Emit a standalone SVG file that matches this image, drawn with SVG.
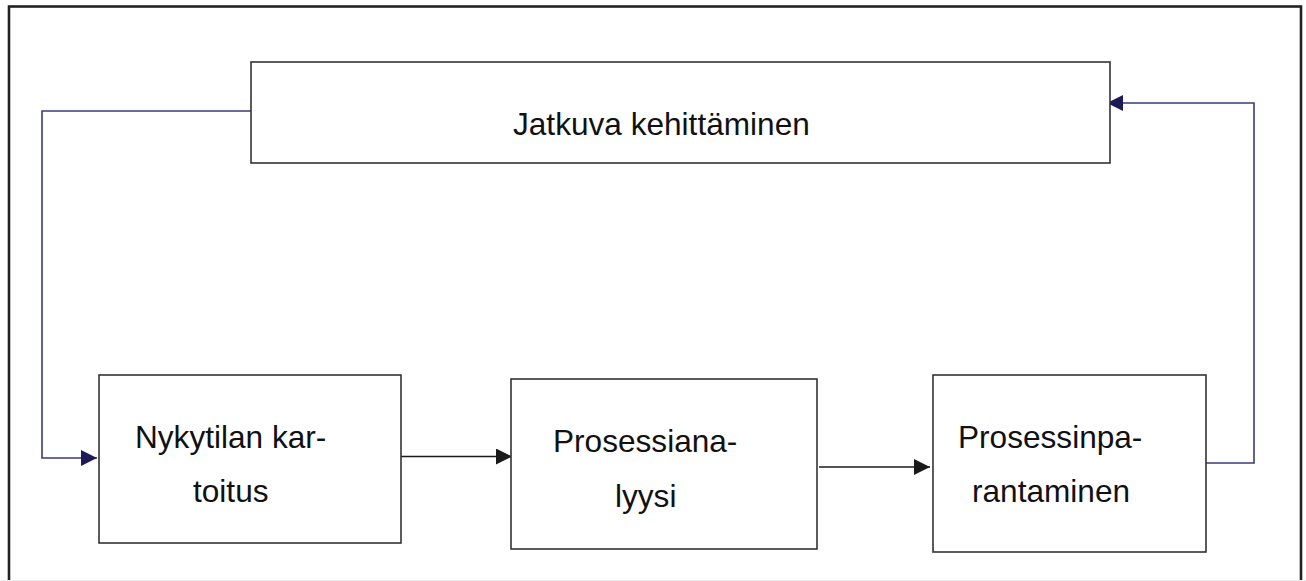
<svg xmlns="http://www.w3.org/2000/svg" width="1306" height="581" viewBox="0 0 1306 581">
<style>
.frame{fill:none;stroke:#222;stroke-width:2.6}
.box{fill:#fff;stroke:#333;stroke-width:1.6}
.lbl{font-family:"Liberation Sans",Arial,sans-serif;font-size:31.6px;fill:#111}
.cn{fill:none;stroke:#3d3a78;stroke-width:1.6}
.cb{fill:none;stroke:#1a1a1a;stroke-width:1.4}
</style>
<defs>
<marker id="ahn" markerWidth="16" markerHeight="16" refX="16" refY="8" orient="auto" markerUnits="userSpaceOnUse" viewBox="0 0 16 16">
<path d="M0,0 L16,8 L0,16 Z" fill="#1e1a58"/>
</marker>
<marker id="ahb" markerWidth="16" markerHeight="16" refX="16" refY="8" orient="auto" markerUnits="userSpaceOnUse" viewBox="0 0 16 16">
<path d="M0,0 L16,8 L0,16 Z" fill="#1a1a1a"/>
</marker>
</defs>
<rect width="1306" height="581" fill="#fff"/>
<rect class="frame" x="9" y="6.5" width="1292" height="580"/>
<line x1="0" y1="580.5" x2="1306" y2="580.5" stroke="#eee" stroke-width="1"/>
<g id="connectors">
<polyline class="cn" points="251,111 42,111 42,458 97,458" marker-end="url(#ahn)"/>
<polyline class="cn" points="1206,463 1254,463 1254,103 1107,103" marker-end="url(#ahn)"/>
<line class="cb" x1="401" y1="456.5" x2="512" y2="456.5" marker-end="url(#ahb)"/>
<line class="cb" x1="819" y1="467" x2="930" y2="467" marker-end="url(#ahb)"/>
</g>
<g id="node-jatkuva">
<rect class="box" x="251" y="62" width="859" height="101"/>
<text class="lbl" x="513" y="135">Jatkuva kehittäminen</text>
</g>
<g id="node-nykytila">
<rect class="box" x="99" y="375" width="302" height="168"/>
<text class="lbl" x="135" y="448">Nykytilan kar-</text>
<text class="lbl" x="193" y="502">toitus</text>
</g>
<g id="node-analyysi">
<rect class="box" x="511" y="379" width="306" height="170"/>
<text class="lbl" x="553" y="452">Prosessiana-</text>
<text class="lbl" x="615" y="507">lyysi</text>
</g>
<g id="node-parantaminen">
<rect class="box" x="933" y="375" width="273" height="177"/>
<text class="lbl" x="958" y="448">Prosessinpa-</text>
<text class="lbl" x="972" y="502">rantaminen</text>
</g>
</svg>
